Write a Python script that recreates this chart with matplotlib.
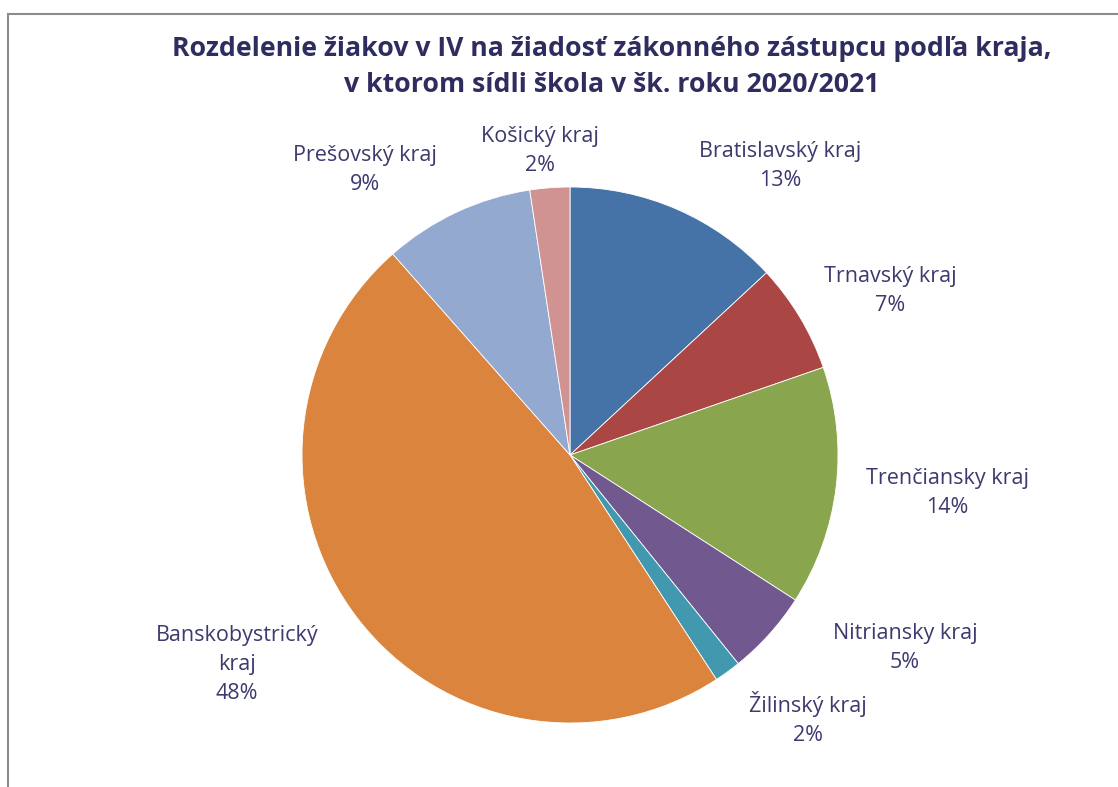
import matplotlib

matplotlib.use("Agg")
import matplotlib.pyplot as plt
from matplotlib.lines import Line2D

# shares of pupils by region (percent)
regions = ["Bratislavský kraj", "Trnavský kraj", "Trenčiansky kraj", "Nitriansky kraj",
           "Žilinský kraj", "Banskobystrický\nkraj", "Prešovský kraj", "Košický kraj"]
shares = [13.1, 6.6, 14.4, 5.1, 1.6, 47.7, 9.1, 2.4]
colors = ["#4572A7", "#AA4643", "#89A54E", "#71588F",
          "#4198AF", "#DB843D", "#93A9CF", "#D19392"]
# label anchor points in pie-radius units (Excel "best fit" placement)
label_xy = [(0.784, 1.078), (1.194, 0.612), (1.407, -0.142), (1.25, -0.72),
            (0.888, -0.985), (-1.243, -0.78), (-0.765, 1.063), (-0.112, 1.134)]

title = ("Rozdelenie žiakov v IV na žiadosť zákonného zástupcu podľa kraja,\n"
         "v ktorom sídli škola v šk. roku 2020/2021")

W, H = 1118, 787
cx, cy, R = 570, 455, 268
FONT = "Open Sans"
TITLE_C = "#2F2C5F"
LABEL_C = "#3C3A6E"

fig = plt.figure(figsize=(W / 100, H / 100), dpi=100)
ax = fig.add_axes([0, 0, 1, 1])

ax.pie(shares, colors=colors, startangle=90, counterclock=False, radius=1.0,
       wedgeprops=dict(edgecolor="white", linewidth=0.6))
ax.set_aspect("auto")
ax.set_xlim(-cx / R, (W - cx) / R)
ax.set_ylim(-(H - cy) / R, cy / R)
ax.axis("off")

for name, val, (x, y) in zip(regions, shares, label_xy):
    ax.text(x, y, f"{name}\n{round(val):d}%", ha="center", va="center",
            fontsize=15.5, color=LABEL_C, family=FONT, linespacing=1.5)

fig.text(612 / W, 1 - 67 / H, title, ha="center", va="center", fontsize=19.2,
         fontweight="bold", color=TITLE_C, family=FONT, linespacing=1.45)

# chart-area border (only top and left edges are visible in the crop)
fig.add_artist(Line2D([8 / W, 8 / W], [0, 1 - 14 / H], transform=fig.transFigure,
                      color="#8C8C8C", lw=1.5))
fig.add_artist(Line2D([8 / W, 1], [1 - 14 / H, 1 - 14 / H], transform=fig.transFigure,
                      color="#8C8C8C", lw=1.5))

fig.savefig("out.png", dpi=100, facecolor="white")
